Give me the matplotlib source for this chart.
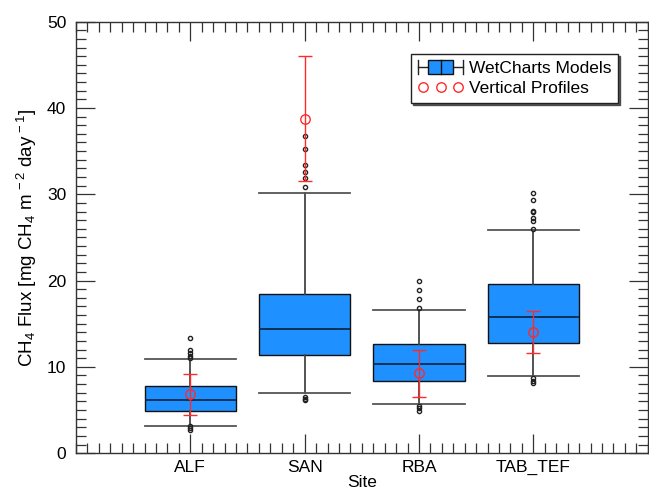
import matplotlib
matplotlib.use("Agg")
import matplotlib.pyplot as plt
from matplotlib.lines import Line2D
from matplotlib.patches import Rectangle
from matplotlib.legend_handler import HandlerBase
from matplotlib.ticker import MultipleLocator

plt.rcParams['font.family'] = ['Liberation Sans', 'DejaVu Sans']
plt.rcParams['mathtext.fontset'] = 'custom'
plt.rcParams['mathtext.rm'] = 'Liberation Sans'
plt.rcParams['mathtext.it'] = 'Liberation Sans:italic'

# WetCharts model distribution per site
sites = ["ALF", "SAN", "RBA", "TAB_TEF"]
q1 = [4.87, 11.36, 8.35, 12.75]
med = [6.11, 14.38, 10.32, 15.77]
q3 = [7.77, 18.43, 12.67, 19.63]
whislo = [3.16, 6.96, 5.72, 8.96]
whishi = [10.9, 30.1, 16.6, 25.9]
fliers_hi = [
    [11.0, 11.3, 11.6, 12.0, 13.3],
    [30.8, 31.9, 32.6, 33.4, 35.3, 36.8],
    [16.8, 17.9, 18.9, 19.9],
    [26.0, 26.9, 27.3, 27.9, 28.1, 29.3, 30.2],
]
fliers_lo = [
    [2.7, 2.9, 3.1],
    [6.1, 6.3, 6.5],
    [4.9, 5.2, 5.5],
    [8.1, 8.4, 8.7],
]

# vertical profile estimates
prof_mean = [6.84, 38.7, 9.24, 14.03]
prof_lo = [4.44, 31.5, 6.53, 11.6]
prof_hi = [9.19, 46.0, 11.94, 16.46]

BLUE = '#1e90ff'
RED = '#ff2a2a'


class BoxHandler(HandlerBase):
    def create_artists(self, legend, orig_handle, xdescent, ydescent,
                       width, height, fontsize, trans):
        x0 = -xdescent
        x1 = x0 + width
        ym = -ydescent + height / 2
        h = height * 1.1
        xm = (x0 + x1) / 2
        bw = 0.55 * width
        arts = [
            Line2D([x0, x1], [ym, ym], color='#222222', lw=1),
            Line2D([x0, x0], [ym - h / 2, ym + h / 2], color='#222222', lw=1),
            Line2D([x1, x1], [ym - h / 2, ym + h / 2], color='#222222', lw=1),
            Rectangle((xm - bw / 2, ym - h / 2), bw, h, fc=BLUE, ec='#111111', lw=1),
            Line2D([xm, xm], [ym - h / 2, ym + h / 2], color='#111111', lw=1),
        ]
        for a in arts:
            a.set_transform(trans)
        return arts


fig = plt.figure(figsize=(6.49, 4.92), dpi=100)
ax = fig.add_axes([0.117, 0.079, 0.881, 0.877])

pos = list(range(1, len(sites) + 1))
stats = []
for i in range(len(sites)):
    stats.append(dict(label=sites[i], q1=q1[i], med=med[i], q3=q3[i],
                      whislo=whislo[i], whishi=whishi[i],
                      fliers=fliers_hi[i] + fliers_lo[i]))

ax.bxp(stats, positions=pos, widths=0.8, patch_artist=True,
       boxprops=dict(facecolor=BLUE, edgecolor='#111111', lw=1),
       medianprops=dict(color='#0a2a4a', lw=1.3),
       whiskerprops=dict(color='#444444', lw=1.3),
       capprops=dict(color='#555555', lw=1.3),
       capwidths=0.8,
       flierprops=dict(marker='o', ms=3, mfc='none', mec='#222222', mew=1))

yerr = [[m - lo for m, lo in zip(prof_mean, prof_lo)],
        [hi - m for m, hi in zip(prof_mean, prof_hi)]]
ax.errorbar(pos, prof_mean, yerr=yerr, fmt='o', ms=6.8, mfc='none',
            mec=RED, mew=1, ecolor=RED, elinewidth=1, capsize=5,
            capthick=1, zorder=5)

ax.set_xlim(0, 5)
ax.set_ylim(0, 50)
ax.set_xticks(pos)
ax.set_xticklabels(sites)
ax.xaxis.set_minor_locator(MultipleLocator(0.1))
ax.yaxis.set_major_locator(MultipleLocator(10))
ax.yaxis.set_minor_locator(MultipleLocator(1))
ax.tick_params(which='both', direction='in', top=True, right=True,
               color='#333333', width=0.9, labelsize=12.5)
ax.tick_params(axis='y', pad=7)
ax.tick_params(axis='x', pad=5)
ax.tick_params(which='major', length=14)
ax.tick_params(which='minor', length=7)
for s in ax.spines.values():
    s.set_color('#333333')
    s.set_linewidth(1)

ax.set_xlabel("Site", fontsize=12.5, labelpad=0)
ax.set_ylabel(r"CH$_4$ Flux [mg CH$_4$ m$^{\,-2}$ day$^{\,-1}$]", fontsize=13.5,
              labelpad=6)

box_handle = Rectangle((0, 0), 1, 1)
prof_handle = Line2D([], [], ls='none', marker='o', ms=6.8, mfc='none',
                     mec=RED, mew=1)
leg = ax.legend([box_handle, prof_handle],
                ["WetCharts Models", "Vertical Profiles"],
                handler_map={Rectangle: BoxHandler()},
                loc='upper right', bbox_to_anchor=(0.948, 0.925),
                borderaxespad=0, fontsize=12.5, numpoints=3,
                handlelength=2.6, handletextpad=0.3, borderpad=0.4,
                labelspacing=0.25, fancybox=False,
                shadow={'ox': 1.5, 'oy': -1.5, 'color': '#333333', 'alpha': 0.8},
                framealpha=1, edgecolor='#222222')
leg.get_frame().set_linewidth(1)

fig.savefig("out.png", dpi=100)
